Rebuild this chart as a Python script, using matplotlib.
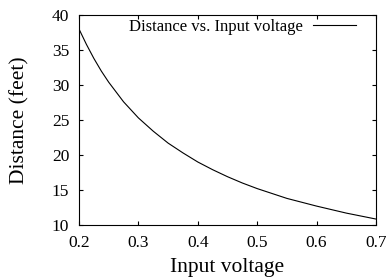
import matplotlib
matplotlib.use('Agg')
import matplotlib.pyplot as plt

# Values
voltage = [0.200, 0.2125, 0.225, 0.2375, 0.250, 0.275, 0.300, 0.325, 0.350, 0.375,
           0.400, 0.425, 0.450, 0.475, 0.500, 0.550, 0.600, 0.650, 0.700]
distance = [38.0, 35.8, 33.8, 32.0, 30.4, 27.6, 25.3, 23.4, 21.7, 20.3,
            19.0, 17.9, 16.9, 16.0, 15.2, 13.8, 12.7, 11.7, 10.85]

x_ticks = [0.2, 0.3, 0.4, 0.5, 0.6, 0.7]
y_ticks = [10, 15, 20, 25, 30, 35, 40]

plt.rcParams['font.family'] = ['Liberation Serif', 'DejaVu Serif']

fig = plt.figure(figsize=(3.89, 2.78), dpi=100)
ax = fig.add_axes([79 / 389, 1 - 225 / 278, (376 - 79) / 389, (225 - 15) / 278])

ax.plot(voltage, distance, color='black', linewidth=0.8, label='Distance vs. Input voltage')

ax.set_xlim(0.2, 0.7)
ax.set_ylim(10, 40)
ax.set_xticks(x_ticks)
ax.set_xticklabels(['%.1f' % t for t in x_ticks])
ax.set_yticks(y_ticks)
ax.tick_params(direction='in', length=3, width=0.8, top=True, right=True,
               labelsize=12.5)
ax.tick_params(axis='x', pad=7)
ax.tick_params(axis='y', pad=7)
for s in ax.spines.values():
    s.set_linewidth(0.8)

ax.set_xlabel('Input voltage', fontsize=15.5, labelpad=5)
ax.set_ylabel('Distance (feet)', fontsize=15.5, labelpad=16)

ax.legend(loc='upper right', bbox_to_anchor=(0.933, 0.98), frameon=False,
          markerfirst=False, fontsize=12, handlelength=2.6,
          borderaxespad=0, borderpad=0, handletextpad=0.6)

fig.savefig('out.png', dpi=100)
